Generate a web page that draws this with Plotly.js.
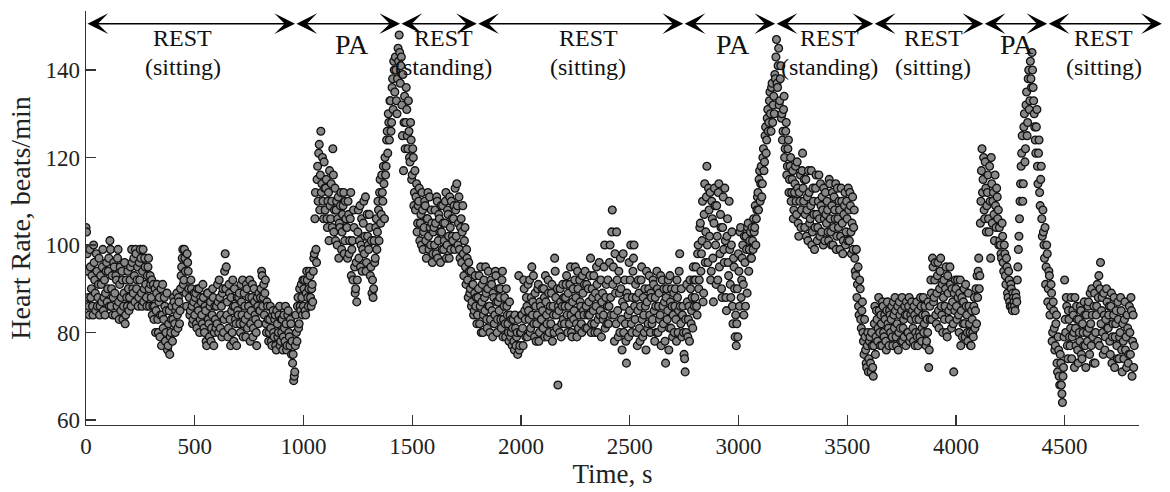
<!DOCTYPE html>
<html>
<head>
<meta charset="utf-8">
<script src="https://cdn.plot.ly/plotly-3.0.1.min.js"></script>
<style>html,body{margin:0;padding:0;background:#fff}#chart{width:1170px;height:492px}</style>
</head>
<body>
<div id="chart"></div>
<script>
// sampling step of the heart-rate series (s)
const timeStep = 5;
// heart rate (beats/min) at t = 0, 5, 10, ... s (20 values = 100 s per row)
const heartRate = [
104,98,88,84,95,90,86,100,92,85,94,88,97,86,91,95,85,92,89,96,
90,97,101,86,93,88,95,84,92,97,87,91,85,94,83,89,82,92,86,90,
88,95,99,90,97,87,98,92,86,96,99,89,94,87,97,91,86,95,90,93,
88,84,91,86,80,89,83,87,79,90,84,81,88,78,85,76,82,75,80,86,
83,87,80,86,84,88,82,90,95,99,92,97,89,98,94,88,85,90,82,87,
84,89,81,86,90,83,87,82,88,80,85,77,89,82,86,78,84,88,80,83,
86,91,80,88,84,79,90,83,98,95,87,81,89,77,85,92,78,86,82,88,
84,89,80,87,92,82,86,79,90,84,88,78,85,91,81,87,83,77,86,89,
85,90,93,88,84,92,80,86,78,83,81,77,85,79,84,76,82,80,86,78,
80,76,84,78,82,77,85,79,83,75,73,69,71,84,78,88,82,86,91,84,
86,92,84,94,88,90,93,86,91,94,98,112,96,118,121,108,126,114,110,119,
108,115,104,112,117,106,110,122,103,113,108,100,111,105,109,99,107,112,101,106,
104,110,98,106,93,101,108,95,90,87,103,97,109,100,94,105,98,111,96,102,
99,104,95,89,88,101,97,106,103,108,112,105,116,110,114,120,118,126,130,124,
133,128,138,142,135,140,130,145,148,137,143,125,117,134,128,131,122,126,119,124,
116,120,112,108,114,105,110,101,107,112,99,104,109,97,106,102,111,100,105,98,
104,108,98,110,101,106,96,103,109,99,105,112,100,107,97,104,110,102,106,99,
108,114,100,111,97,106,103,98,101,95,99,92,96,89,94,87,91,85,93,88,
84,90,82,95,87,80,92,85,89,81,94,86,83,91,79,88,84,93,80,87,
85,90,81,94,83,88,79,86,82,78,84,80,77,83,76,81,79,75,93,77,
80,84,77,90,83,88,79,85,92,81,95,87,82,89,78,84,91,80,86,83,
85,90,79,87,82,92,80,86,89,78,84,97,88,81,68,85,90,79,86,83,
82,88,93,80,86,91,84,79,90,85,95,82,94,81,92,86,80,89,84,94,
86,81,90,84,97,82,88,93,80,86,91,83,96,85,79,89,84,100,88,82,
92,86,100,84,108,95,78,89,103,85,94,80,90,76,98,86,82,73,88,79,
85,100,80,94,100,83,88,77,92,81,86,95,79,84,90,76,87,82,93,80,
88,83,91,78,86,94,80,89,84,77,92,82,87,73,90,85,76,93,81,86,
84,80,90,78,88,85,98,82,79,86,75,71,80,87,83,78,90,85,81,92,
88,95,84,100,92,105,98,110,89,114,103,118,96,108,112,94,106,87,113,100,
109,92,114,98,104,88,111,96,101,85,106,93,99,88,103,82,95,79,77,90,
98,86,104,92,100,84,96,102,89,105,99,103,97,101,106,104,100,108,112,115,
110,118,114,122,119,127,124,131,128,135,126,137,132,130,138,147,136,145,133,141,
130,126,134,122,128,118,124,115,120,112,117,108,114,110,119,105,112,116,108,121,
110,104,115,108,101,112,106,117,103,110,99,113,107,104,116,102,109,111,100,106,
112,105,108,101,114,103,109,100,111,106,99,113,104,108,102,110,98,107,112,103,
106,113,101,109,98,111,104,97,93,88,95,84,90,81,87,78,83,76,72,80,
74,79,71,77,70,82,75,85,78,88,80,84,77,86,79,83,76,87,81,85,
80,86,77,84,88,79,82,76,87,81,85,78,83,86,77,84,80,88,79,83,
85,78,84,80,87,77,83,79,86,81,88,82,84,78,80,72,86,92,83,95,
88,96,82,93,85,90,97,84,80,92,86,95,79,89,83,91,81,87,71,85,
90,83,88,80,92,85,79,87,82,91,84,78,86,80,77,83,79,88,85,82,
88,97,93,110,122,115,108,119,103,112,106,118,97,114,110,107,116,104,111,108,
104,100,97,102,94,98,91,95,88,92,86,90,85,88,86,89,87,95,102,110,
118,125,114,130,122,135,128,140,133,138,144,136,130,124,127,118,121,112,115,106,
108,100,104,95,98,90,93,86,89,80,85,76,82,73,79,70,75,68,64,72,
92,80,86,74,83,77,88,79,84,72,81,86,76,83,78,85,74,80,87,77,
84,78,87,75,82,90,79,86,73,84,91,88,77,96,85,80,89,76,83,87,
81,86,75,89,79,84,72,82,77,87,74,80,85,71,78,83,76,72,81,75,
80,88,70,84,77
];
// heart rate (beats/min) at the in-between samples t = 2.5, 7.5, 12.5, ... s
const heartRateMid = [
103,94,86,99,88,93,84,96,89,98,86,91,84,93,87,99,88,84,94,87,
94,86,99,90,84,96,89,93,86,99,83,95,88,92,86,96,84,88,94,85,
92,86,96,89,93,99,90,95,88,92,97,86,99,90,95,88,93,97,86,91,
92,86,83,90,85,91,80,88,84,77,91,83,86,80,89,77,85,79,83,78,
88,82,85,89,81,87,85,93,97,91,99,94,86,96,90,84,92,86,83,89,
88,82,90,85,80,88,84,91,81,86,78,89,83,79,87,81,90,77,86,81,
82,87,92,81,86,89,80,94,90,84,79,91,83,88,80,86,90,83,77,85,
88,82,91,84,79,89,83,91,81,86,92,82,88,79,90,84,80,88,82,85,
88,94,86,91,89,82,87,83,80,86,78,84,80,83,77,85,79,84,77,83,
83,79,81,86,76,84,80,77,82,78,75,70,77,80,86,81,90,85,88,92,
90,85,89,92,86,94,88,90,87,97,106,99,115,110,123,116,112,120,106,113,
113,106,110,101,109,114,104,116,108,101,110,106,97,104,112,103,109,98,110,104,
97,107,101,112,99,92,104,89,96,92,108,101,95,106,99,110,102,94,107,100,
107,93,101,92,90,96,104,99,110,101,115,107,112,118,106,116,124,121,128,133,
126,136,131,140,143,133,138,142,144,141,132,139,128,122,136,125,133,120,128,115,
122,109,117,111,103,109,113,105,100,108,103,110,101,106,112,99,104,108,96,103,
100,105,111,97,107,103,109,99,105,101,110,97,108,102,111,99,106,101,109,113,
102,109,105,99,104,96,109,93,104,91,97,88,94,90,86,91,84,89,86,82,
88,93,86,80,91,84,88,95,83,90,86,80,92,85,89,82,94,87,83,90,
88,83,92,79,86,82,90,84,80,87,79,83,81,78,84,77,80,83,76,80,
84,81,92,85,79,86,91,83,80,88,84,93,79,86,82,90,78,87,83,90,
81,88,93,84,79,89,85,82,91,86,80,94,84,90,86,80,87,82,91,88,
86,91,84,89,82,95,80,87,83,92,88,79,90,84,87,82,93,85,91,81,
91,84,87,93,80,90,85,82,89,95,80,88,84,92,87,83,95,81,91,86,
82,96,88,103,91,84,98,82,92,79,89,97,83,87,80,92,78,89,84,96,
92,82,88,97,86,91,80,85,89,78,92,83,88,80,86,94,81,90,84,89,
82,92,85,88,80,90,86,83,93,81,86,90,78,88,83,92,81,87,90,79,
89,86,83,92,80,94,86,90,84,80,74,83,91,79,86,92,82,88,95,86,
92,86,98,90,104,94,101,87,107,96,111,100,113,102,92,110,97,105,109,91,
102,112,95,107,90,104,99,113,88,102,96,110,91,100,86,97,90,84,82,79,
94,103,88,97,91,102,86,99,104,94,101,97,104,99,103,109,106,111,108,117,
114,111,120,117,125,121,129,126,133,130,136,128,134,139,143,137,141,132,138,129,
124,131,120,126,116,122,112,118,110,115,106,112,118,107,113,102,110,104,117,113,
115,107,102,111,117,105,109,100,113,107,104,116,101,110,106,114,103,108,113,101,
107,110,103,115,106,100,112,104,108,114,102,106,110,99,113,105,101,109,100,110,
101,108,112,103,105,99,108,94,99,91,86,92,83,85,80,75,79,73,77,71,
78,73,80,72,77,86,79,83,81,85,77,82,87,80,84,78,85,82,77,84,
83,79,87,81,85,77,86,80,84,78,88,81,79,84,87,80,86,78,84,87,
81,86,77,83,79,85,80,88,78,84,80,86,77,83,87,76,83,89,97,87,
92,84,89,96,81,94,86,91,88,83,90,80,93,85,95,86,90,82,89,92,
86,92,84,89,77,88,82,90,79,86,80,89,82,77,85,80,86,81,90,93,
94,90,105,117,112,120,106,113,109,116,103,110,120,105,112,101,109,113,106,100,
101,98,105,96,100,93,97,89,94,87,91,86,89,87,85,88,92,99,106,114,
121,110,127,119,132,125,138,131,142,136,140,133,127,121,131,114,124,109,118,102,
103,97,91,100,87,94,84,91,78,87,81,77,84,71,76,68,73,66,70,79,
83,88,77,85,79,81,74,85,80,88,77,83,73,80,86,75,82,77,84,72,
80,86,81,89,77,84,73,89,80,86,78,93,90,82,88,75,84,79,90,81,
84,78,86,73,82,88,79,85,74,83,79,88,76,82,74,87,79,84,73,86,
75,85,78,72
];

// interleave both sample sets in time order
const time = [], hr = [];
for (let i = 0; i < heartRate.length; i++) {
  time.push(i * timeStep); hr.push(heartRate[i]);
  if (i < heartRateMid.length) { time.push(i * timeStep + timeStep / 2); hr.push(heartRateMid[i]); }
}

// phase boundaries (s) and labels
const phaseBounds = [0, 961, 1444, 1797, 2746, 3169, 3620, 4126, 4420, 4947];
const phaseName = ['REST', 'PA', 'REST', 'REST', 'PA', 'REST', 'REST', 'PA', 'REST'];
const phasePosture = ['(sitting)', '', '(standing)', '(sitting)', '', '(standing)', '(sitting)', '', '(sitting)'];

const xTicks = [0, 500, 1000, 1500, 2000, 2500, 3000, 3500, 4000, 4500];
const yTicks = [60, 80, 100, 120, 140];

// ---- layout settings ----
const FONT = '"Liberation Serif", "Times New Roman", Times, serif';
const TXT = '#222';
const labelX = [446, 1223, 1643, 2310, 2977, 3418, 3897, 4283, 4680];
const arrowY = 150.6;

const annotations = [];
for (let i = 0; i < phaseName.length; i++) {
  annotations.push({
    xref: 'x', yref: 'y', axref: 'x', ayref: 'y',
    x: phaseBounds[i + 1], y: arrowY, ax: phaseBounds[i], ay: arrowY,
    text: '', showarrow: true, arrowside: 'end+start',
    arrowhead: 3, startarrowhead: 3, arrowsize: 2.3, startarrowsize: 2.3,
    arrowwidth: 1.5, arrowcolor: '#000', standoff: 0, startstandoff: 0
  });
  if (phasePosture[i]) {
    annotations.push({xref: 'x', yref: 'y', x: labelX[i], y: 147.3, text: phaseName[i], showarrow: false,
      font: {family: FONT, size: 24, color: '#111'}});
    annotations.push({xref: 'x', yref: 'y', x: labelX[i], y: 140.6, text: phasePosture[i], showarrow: false,
      font: {family: FONT, size: 24, color: '#111'}});
  } else {
    annotations.push({xref: 'x', yref: 'y', x: labelX[i], y: 145.9, text: phaseName[i], showarrow: false,
      font: {family: FONT, size: 28, color: '#111'}});
  }
}

const trace = {
  type: 'scatter', mode: 'markers', x: time, y: hr,
  marker: {size: 7.8, color: '#888888', line: {color: '#111111', width: 1.3}},
  hoverinfo: 'x+y'
};

const axisCommon = {
  showline: true, linecolor: '#333', linewidth: 1.3, mirror: false,
  ticks: 'inside', ticklen: 10, tickwidth: 1.3, tickcolor: '#333',
  showgrid: false, zeroline: false, tickmode: 'array',
  tickfont: {family: FONT, size: 23, color: TXT}
};

const layout = {
  width: 1170, height: 492,
  margin: {l: 86, r: 31, t: 11, b: 67},
  paper_bgcolor: '#fff', plot_bgcolor: '#fff',
  showlegend: false,
  font: {family: FONT, color: TXT},
  xaxis: Object.assign({}, axisCommon, {
    range: [0, 4842], tickvals: xTicks, ticktext: xTicks.map(String),
    title: {text: 'Time, s', font: {family: FONT, size: 27, color: TXT}, standoff: 6}
  }),
  yaxis: Object.assign({}, axisCommon, {
    range: [58.86, 153.5], tickvals: yTicks, ticktext: yTicks.map(String),
    title: {text: 'Heart Rate, beats/min', font: {family: FONT, size: 28, color: TXT}, standoff: 6}
  }),
  annotations: annotations
};

Plotly.newPlot('chart', [trace], layout, {displayModeBar: false, staticPlot: true});
</script>
</body>
</html>
